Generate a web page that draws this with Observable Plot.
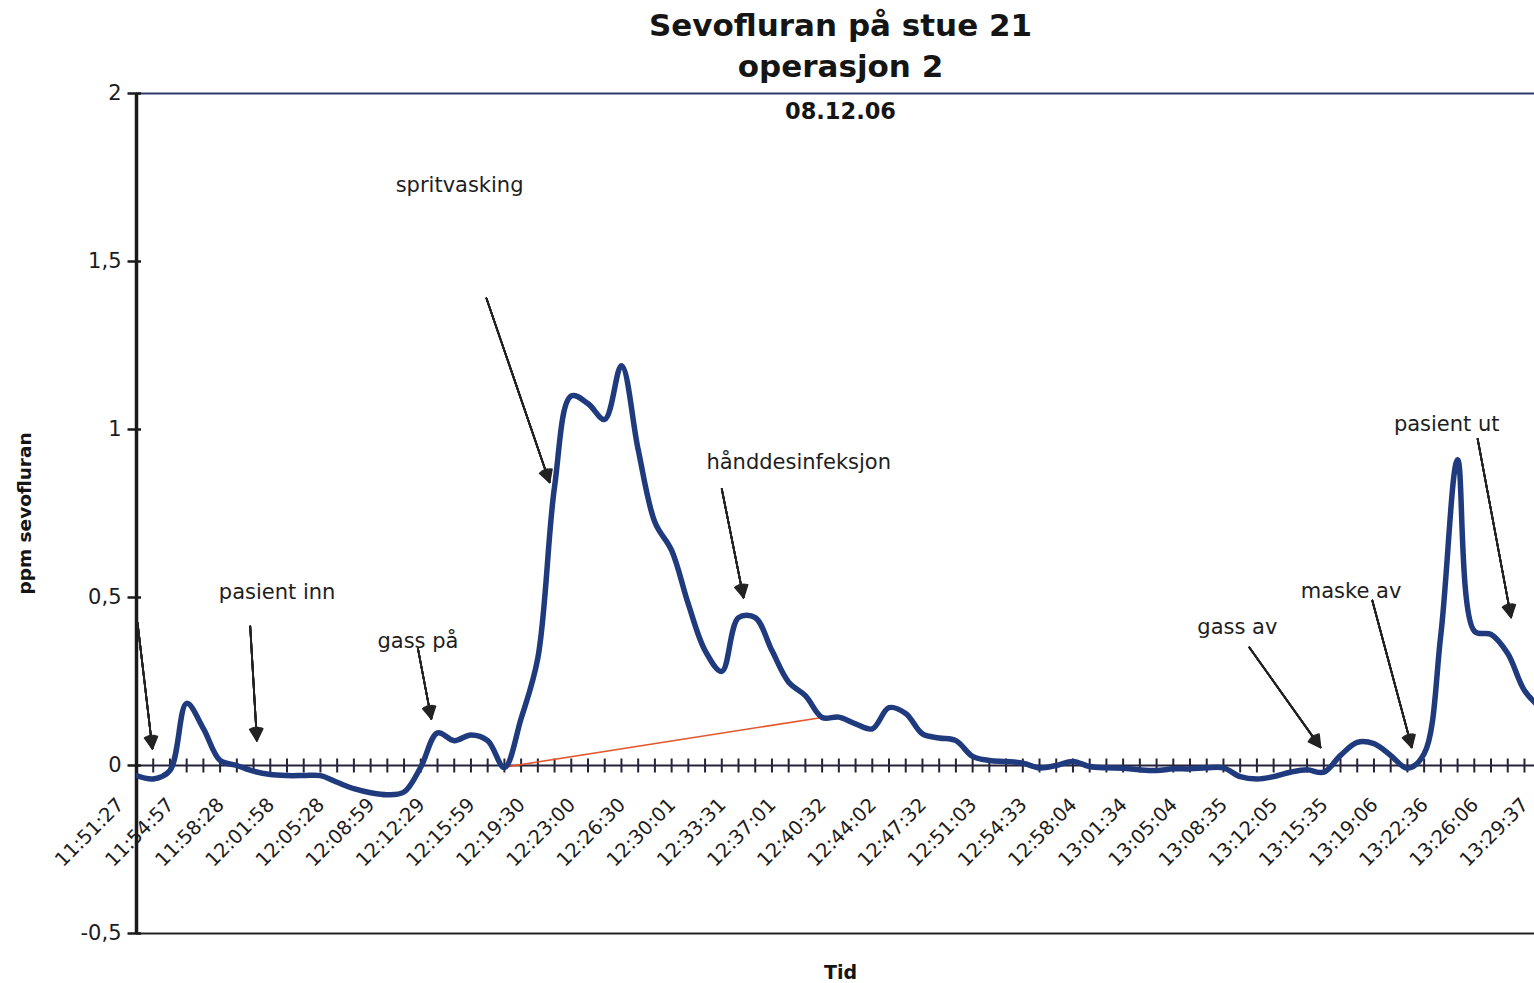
<!DOCTYPE html>
<html>
<head>
<meta charset="utf-8">
<script src="https://cdn.jsdelivr.net/npm/d3@7"></script>
<script src="https://cdn.jsdelivr.net/npm/@observablehq/plot@0.6"></script>
<style>
  html, body { margin: 0; padding: 0; background: #fff; overflow: hidden; }
  #chart svg { display: block; }
</style>
</head>
<body>
<div id="chart"></div>
<script>
// ---- Data ----
// category index (one measurement every ~70 s, starting 11:51:27)
const categoryIndex = d3.range(0, 85);
// ppm sevofluran per category
const sevoValues = [
  -0.03, -0.04, -0.015, 0.185, 0.11, 0.015, 0.0, -0.017, -0.027, -0.03,
  -0.03, -0.03, -0.05, -0.069, -0.081, -0.087, -0.079, -0.005, 0.097, 0.074,
  0.091, 0.074, -0.006, 0.14, 0.32, 0.83, 1.10, 1.077, 1.03, 1.19,
  0.94, 0.724, 0.64, 0.48, 0.342, 0.28, 0.44, 0.44, 0.342, 0.248,
  0.208, 0.143, 0.144, 0.124, 0.109, 0.172, 0.155, 0.094, 0.082, 0.074,
  0.027, 0.015, 0.012, 0.007, -0.007, 0.0, 0.012, -0.003, -0.007, -0.008,
  -0.013, -0.015, -0.01, -0.01, -0.007, -0.007, -0.033, -0.04, -0.033, -0.02,
  -0.013, -0.02, 0.03, 0.069, 0.065, 0.03, -0.008, 0.035, 0.39, 0.91,
  0.40, 0.39, 0.333, 0.223, 0.17
];
// second (red) series
const redIndex = [22, 41];
const redValues = [-0.005, 0.143];

// tick labels (every third category)
const timeLabels = [
  "11:51:27","11:54:57","11:58:28","12:01:58","12:05:28","12:08:59","12:12:29",
  "12:15:59","12:19:30","12:23:00","12:26:30","12:30:01","12:33:31","12:37:01",
  "12:40:32","12:44:02","12:47:32","12:51:03","12:54:33","12:58:04","13:01:34",
  "13:05:04","13:08:35","13:12:05","13:15:35","13:19:06","13:22:36","13:26:06",
  "13:29:37"
];
const labelIndex = timeLabels.map((_, k) => k * 3);
const yTicks = [-0.5, 0, 0.5, 1, 1.5, 2];

// annotations
const annLabels = ["pasient inn", "gass på", "spritvasking", "hånddesinfeksjon", "gass av", "maske av", "pasient ut"];
const annX = [8.41, 16.83, 19.32, 39.6, 65.83, 72.63, 78.35];
const annY = [0.517, 0.369, 1.726, 0.902, 0.411, 0.518, 1.015];

// arrows (from -> to), in category / ppm units
const arrowX1 = [0.06, 6.8, 16.83, 20.93, 35.0, 66.55, 73.9, 80.2];
const arrowY1 = [0.425, 0.414, 0.348, 1.39, 0.823, 0.351, 0.491, 0.972];
const arrowX2 = [0.95, 7.2, 17.63, 24.7, 36.3, 70.8, 76.26, 82.2];
const arrowY2 = [0.05, 0.074, 0.139, 0.843, 0.50, 0.054, 0.054, 0.441];

// ---- Build ----
const arrowRows = arrowX1.map((_, k) => ({x1: arrowX1[k], y1: arrowY1[k], x2: arrowX2[k], y2: arrowY2[k]}));
const annRows = annLabels.map((t, k) => ({x: annX[k], y: annY[k], text: t}));
const fmt = v => String(v).replace(".", ",");

const vline = {draw(ctx, size) { const r = Math.sqrt(size / Math.PI); ctx.moveTo(0, -r); ctx.lineTo(0, r); }};
const hline = {draw(ctx, size) { const r = Math.sqrt(size / Math.PI); ctx.moveTo(-r, 0); ctx.lineTo(r * 0.5, 0); }};

const axisColor = "#26223a";
const arrowMarks = [58, 46, 34, 22, 10].map(a => Plot.arrow(arrowRows, {
  x1: "x1", y1: "y1", x2: "x2", y2: "y2",
  stroke: "#222", strokeWidth: 1.8, headLength: 11, headAngle: a
}));

const titleStyle = {textAnchor: "middle", lineAnchor: "middle", fontWeight: "bold", fill: "#151515"};

const chart = Plot.plot({
  width: 1534,
  height: 983,
  marginLeft: 136,
  marginRight: 0,
  marginTop: 93,
  marginBottom: 50,
  x: {type: "linear", domain: [0, 83.6], axis: null},
  y: {type: "linear", domain: [-0.5, 2], axis: null},
  style: {fontFamily: "'DejaVu Sans', sans-serif", background: "#fff"},
  marks: [
    Plot.ruleY([2], {stroke: "#2e3b68", strokeWidth: 2}),
    Plot.ruleY([-0.5], {stroke: "#222", strokeWidth: 2}),
    Plot.ruleY([0], {stroke: axisColor, strokeWidth: 2}),
    Plot.dot(categoryIndex, {x: d => d, y: 0, symbol: vline, r: 7, fill: "none", stroke: axisColor, strokeWidth: 2}),
    Plot.ruleX([0], {stroke: "#1a1a1a", strokeWidth: 3.5}),
    Plot.dot(yTicks, {x: 0, y: d => d, symbol: hline, r: 9, fill: "none", stroke: "#1a1a1a", strokeWidth: 2.5}),
    Plot.text(yTicks, {x: 0, y: d => d, text: d => fmt(d), textAnchor: "end", dx: -15, fontSize: 21, fill: "#1c1c1c"}),
    Plot.text(labelIndex, {x: d => d, y: 0, text: (d, k) => timeLabels[k], rotate: -45, textAnchor: "end", dx: -16, dy: 36, fontSize: 19.5, fill: "#1c1c1c"}),
    Plot.line(redIndex, {x: d => d, y: (d, k) => redValues[k], stroke: "#e4572e", strokeWidth: 1.6}),
    Plot.line(categoryIndex, {x: d => d, y: (d, k) => sevoValues[k], curve: "catmull-rom", stroke: "#1f3b7d", strokeWidth: 5.5, clip: true}),
    ...arrowMarks,
    Plot.text(annRows, {x: "x", y: "y", text: "text", fontSize: 21, fill: "#1e1e1e"}),
    Plot.text(["Sevofluran på stue 21"], {...titleStyle, text: d => d, frameAnchor: "top", dx: 5, dy: -67.8, fontSize: 31}),
    Plot.text(["operasjon 2"], {...titleStyle, text: d => d, frameAnchor: "top", dx: 5, dy: -26, fontSize: 31}),
    Plot.text(["08.12.06"], {...titleStyle, text: d => d, frameAnchor: "top", dx: 5, dy: 18, fontSize: 22.5}),
    Plot.text(["ppm sevofluran"], {...titleStyle, text: d => d, frameAnchor: "left", rotate: -90, dx: -111, fontSize: 18.5}),
    Plot.text(["Tid"], {...titleStyle, text: d => d, frameAnchor: "bottom", dx: 5, dy: 39, fontSize: 19})
  ]
});
document.getElementById("chart").append(chart);
</script>
</body>
</html>
